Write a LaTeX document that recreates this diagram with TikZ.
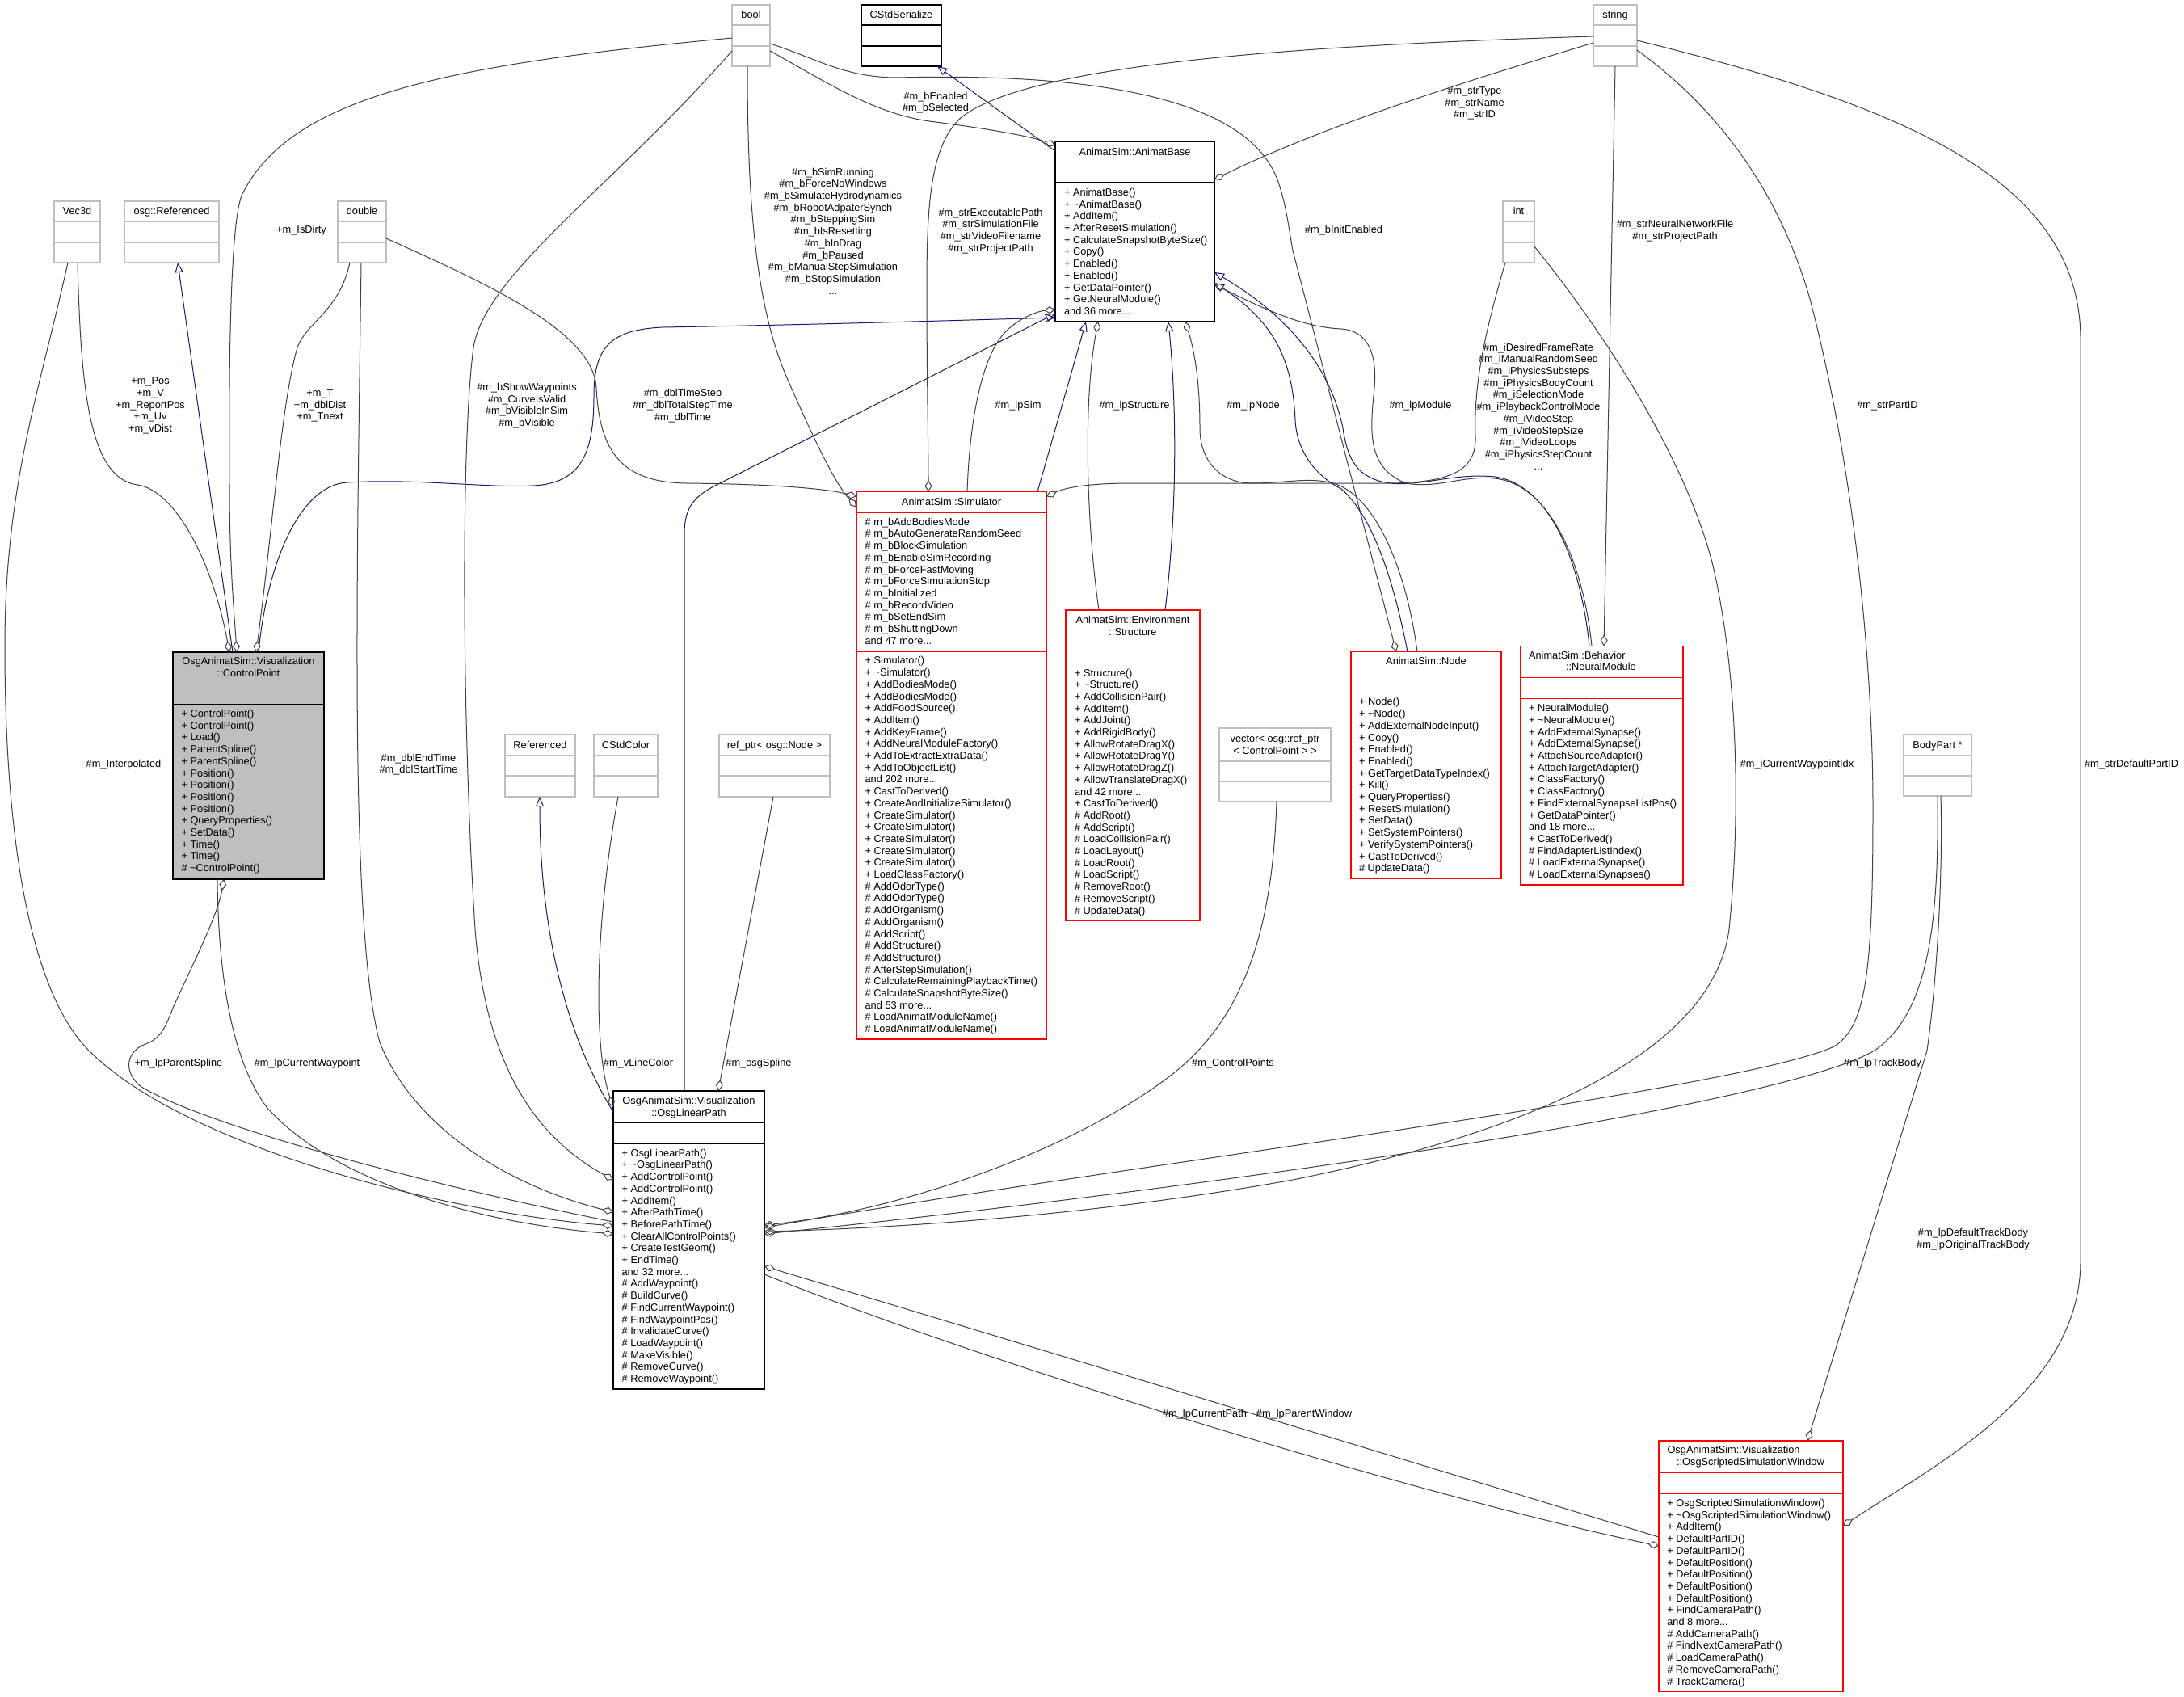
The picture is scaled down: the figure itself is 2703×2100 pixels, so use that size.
\documentclass[tikz,border=0pt]{standalone}
\usepackage{fontspec}
\setmainfont{Liberation Sans}
\usetikzlibrary{arrows.meta,calc}
\newcommand\lf{\fontsize{12.8}{14.7}\selectfont}
\newcommand\tdots{...}
\definecolor{edgegray}{HTML}{404040}
\definecolor{inhblue}{HTML}{191970}
\definecolor{boxgray}{HTML}{BFBFBF}
\definecolor{boxred}{HTML}{FF0000}
\newcommand\cbox[8]{%
  \node[cls, #8, minimum width=#4pt, minimum height=#5pt] (#1) at (#2,#3) {};
  \draw[#8, line width=1.2pt] ($(#1.north west)+(0,#6)$) -- ++(#4,0);
  \draw[#8, line width=1.2pt] ($(#1.north west)+(0,#6+#7)$) -- ++(#4,0);
}
\newcommand\mlines[4]{%
  \foreach \mline [count=\mi] in {#4} {\node[txt, anchor=base west] (#1\mi) at (#2, {#3+(\mi-1)*14.7}) {\mline};}%
}
\begin{document}
\begin{tikzpicture}[x=1pt, y=-1pt,
  cls/.style={draw, anchor=north west, inner sep=0pt, outer sep=0pt, line width=1.2pt, fill=white},
  gbox/.style={draw=boxgray},
  bbox/.style={draw=black},
  rbox/.style={draw=boxred},
  cpbox/.style={draw=black, fill=boxgray},
  txt/.style={font=\lf, inner sep=0pt, outer sep=0pt, text=black},
  lab/.style={txt, align=center},
  agg/.style={draw=edgegray, line width=1pt, -{Diamond[open, length=14pt, width=9pt]}},
  aggS/.style={draw=edgegray, line width=1pt, {Diamond[open, length=14pt, width=9pt]}-},
  inh/.style={draw=inhblue, line width=1pt, -{Triangle[open, length=12pt, width=10pt]}}]
\fill[white] (0,0) rectangle (2703,2100);
\useasboundingbox (0,0) rectangle (2703,2100);

% ---------- class boxes ----------
\cbox{bool}{906}{6}{47}{76}{25}{26}{gbox}
\cbox{stdser}{1066}{6}{99}{76}{25}{26}{bbox}
\cbox{string}{1972}{6}{54}{76}{25}{26}{gbox}
\cbox{vec3d}{67}{249}{57}{76}{25.5}{25.5}{gbox}
\cbox{osgref}{154}{249}{117}{76}{25.5}{25.5}{gbox}
\cbox{double}{418}{249}{60}{76}{25.5}{25.5}{gbox}
\cbox{int}{1860}{249}{39}{76}{25.5}{25.5}{gbox}
\cbox{ab}{1306}{175}{197}{223}{25.5}{25.5}{bbox}
\cbox{cp}{214}{807}{187}{281}{39.5}{25.5}{cpbox}
\cbox{sim}{1060}{608.5}{235}{677.5}{25.5}{172}{rbox}
\cbox{str}{1319}{755}{166}{384}{39.4}{26.2}{rbox}
\cbox{vec}{1509}{901}{138}{91}{41}{25.5}{gbox}
\cbox{node}{1672}{806.5}{186}{281}{25.2}{25.4}{rbox}
\cbox{nm}{1882}{799.5}{201}{295.5}{39}{26.2}{rbox}
\cbox{refd}{625}{909}{87}{77}{25.5}{25.5}{gbox}
\cbox{color}{735}{909}{79}{77}{25.5}{25.5}{gbox}
\cbox{refptr}{890}{909}{137}{77}{25.5}{25.5}{gbox}
\cbox{body}{2356}{909}{84}{76}{25.5}{25.5}{gbox}
\cbox{olp}{759}{1350}{187}{369}{39.7}{25.6}{bbox}
\cbox{osw}{2053}{1783}{228}{310}{39.7}{25.5}{rbox}

% ---------- titles ----------
\node[txt, anchor=base] (bool-t) at (929.5,23) {bool};
\node[txt, anchor=base] (stdser-t) at (1115.5,23) {CStdSerialize};
\node[txt, anchor=base] (string-t) at (1999,23) {string};
\node[txt, anchor=base] (vec3d-t) at (95.5,266) {Vec3d};
\node[txt, anchor=base] (osgref-t) at (212.5,266) {osg::Referenced};
\node[txt, anchor=base] (double-t) at (448,266) {double};
\node[txt, anchor=base] (int-t) at (1879.5,266) {int};
\node[txt, anchor=base] (ab-t) at (1404.5,192.2) {AnimatSim::AnimatBase};
\node[txt, anchor=base] (sim-t) at (1177.5,625.8) {AnimatSim::Simulator};
\node[txt, anchor=base] (node-t) at (1765,822.8) {AnimatSim::Node};
\node[txt, anchor=base] (refd-t) at (668.5,926) {Referenced};
\node[txt, anchor=base] (color-t) at (774.5,926) {CStdColor};
\node[txt, anchor=base] (refptr-t) at (958.5,926) {ref\_ptr< osg::Node >};
\node[txt, anchor=base] (body-t) at (2398,926) {BodyPart *};
\node[txt, anchor=base] (cp-t1) at (307.5,822.5) {OsgAnimatSim::Visualization};
\node[txt, anchor=base] (cp-t2) at (307.5,837.2) {::ControlPoint};
\node[txt, anchor=base] (str-t1) at (1402,771.5) {AnimatSim::Environment};
\node[txt, anchor=base] (str-t2) at (1402,786.1) {::Structure};
\node[txt, anchor=base] (vec-t1) at (1578,918.3) {vector< osg::ref\_ptr};
\node[txt, anchor=base] (vec-t2) at (1578,933) {< ControlPoint > >};
\node[txt, anchor=base west] (nm-t1) at (1892,815) {AnimatSim::Behavior};
\node[txt, anchor=base west] (nm-t2) at (1938,829.5) {::NeuralModule};
\node[txt, anchor=base] (olp-t1) at (852.5,1366.2) {OsgAnimatSim::Visualization};
\node[txt, anchor=base] (olp-t2) at (852.5,1381.2) {::OsgLinearPath};
\node[txt, anchor=base west] (osw-t1) at (2063.5,1798.8) {OsgAnimatSim::Visualization};
\node[txt, anchor=base west] (osw-t2) at (2075,1813.8) {::OsgScriptedSimulationWindow};

% ---------- members ----------
\mlines{abm}{1317}{242.5}{+ AnimatBase(), + \textasciitilde AnimatBase(), + AddItem(), + AfterResetSimulation(), + CalculateSnapshotByteSize(), + Copy(), + Enabled(), + Enabled(), + GetDataPointer(), + GetNeuralModule(), and 36 more\tdots}
\mlines{cpm}{224.5}{887.5}{+ ControlPoint(), + ControlPoint(), + Load(), + ParentSpline(), + ParentSpline(), + Position(), + Position(), + Position(), + Position(), + QueryProperties(), + SetData(), + Time(), + Time(), \# \textasciitilde ControlPoint()}
\mlines{sima}{1070.6}{650.2}{\# m\_bAddBodiesMode, \# m\_bAutoGenerateRandomSeed, \# m\_bBlockSimulation, \# m\_bEnableSimRecording, \# m\_bForceFastMoving, \# m\_bForceSimulationStop, \# m\_bInitialized, \# m\_bRecordVideo, \# m\_bSetEndSim, \# m\_bShuttingDown, and 47 more\tdots}
\mlines{simm}{1070.6}{821.9}{+ Simulator(), + \textasciitilde Simulator(), + AddBodiesMode(), + AddBodiesMode(), + AddFoodSource(), + AddItem(), + AddKeyFrame(), + AddNeuralModuleFactory(), + AddToExtractExtraData(), + AddToObjectList(), and 202 more\tdots, + CastToDerived(), + CreateAndInitializeSimulator(), + CreateSimulator(), + CreateSimulator(), + CreateSimulator(), + CreateSimulator(), + CreateSimulator(), + LoadClassFactory(), \# AddOdorType(), \# AddOdorType(), \# AddOrganism(), \# AddOrganism(), \# AddScript(), \# AddStructure(), \# AddStructure(), \# AfterStepSimulation(), \# CalculateRemainingPlaybackTime(), \# CalculateSnapshotByteSize(), and 53 more\tdots, \# LoadAnimatModuleName(), \# LoadAnimatModuleName()}
\mlines{strm}{1330}{837}{+ Structure(), + \textasciitilde Structure(), + AddCollisionPair(), + AddItem(), + AddJoint(), + AddRigidBody(), + AllowRotateDragX(), + AllowRotateDragY(), + AllowRotateDragZ(), + AllowTranslateDragX(), and 42 more\tdots, + CastToDerived(), \# AddRoot(), \# AddScript(), \# LoadCollisionPair(), \# LoadLayout(), \# LoadRoot(), \# LoadScript(), \# RemoveRoot(), \# RemoveScript(), \# UpdateData()}
\mlines{nodem}{1682}{872.9}{+ Node(), + \textasciitilde Node(), + AddExternalNodeInput(), + Copy(), + Enabled(), + Enabled(), + GetTargetDataTypeIndex(), + Kill(), + QueryProperties(), + ResetSimulation(), + SetData(), + SetSystemPointers(), + VerifySystemPointers(), + CastToDerived(), \# UpdateData()}
\mlines{nmm}{1892}{880.7}{+ NeuralModule(), + \textasciitilde NeuralModule(), + AddExternalSynapse(), + AddExternalSynapse(), + AttachSourceAdapter(), + AttachTargetAdapter(), + ClassFactory(), + ClassFactory(), + FindExternalSynapseListPos(), + GetDataPointer(), and 18 more\tdots, + CastToDerived(), \# FindAdapterListIndex(), \# LoadExternalSynapse(), \# LoadExternalSynapses()}
\mlines{olpm}{769.6}{1431.2}{+ OsgLinearPath(), + \textasciitilde OsgLinearPath(), + AddControlPoint(), + AddControlPoint(), + AddItem(), + AfterPathTime(), + BeforePathTime(), + ClearAllControlPoints(), + CreateTestGeom(), + EndTime(), and 32 more\tdots, \# AddWaypoint(), \# BuildCurve(), \# FindCurrentWaypoint(), \# FindWaypointPos(), \# InvalidateCurve(), \# LoadWaypoint(), \# MakeVisible(), \# RemoveCurve(), \# RemoveWaypoint()}
\mlines{oswm}{2063.3}{1864.5}{+ OsgScriptedSimulationWindow(), + \textasciitilde OsgScriptedSimulationWindow(), + AddItem(), + DefaultPartID(), + DefaultPartID(), + DefaultPosition(), + DefaultPosition(), + DefaultPosition(), + DefaultPosition(), + FindCameraPath(), and 8 more\tdots, \# AddCameraPath(), \# FindNextCameraPath(), \# LoadCameraPath(), \# RemoveCameraPath(), \# TrackCamera()}

% ---------- connectors ----------
\draw[agg] ($(vec3d.north west)+(29,76)$) .. controls (100,480) and (110,592) .. (170,600) .. controls (215,606) and (262,690) .. ($(cp.north west)+(70,0)$);
\draw[agg] ($(bool.north west)+(0,41)$) .. controls (550,80) and (360,120) .. (300,240) .. controls (285,270) and (283,450) .. (284,600) .. controls (284,700) and (290,760) .. ($(cp.north west)+(79,0)$);
\draw[inh] ($(cp.north west)+(74,0)$) -- ($(osgref.north west)+(66,76)$);
\draw[agg] ($(double.north west)+(15,76)$) .. controls (420,385) and (380,398) .. (368,430) .. controls (348,500) and (338,650) .. ($(cp.north west)+(103,0)$);
\draw[inh] ($(cp.north west)+(106,0)$) .. controls (330,700) and (370,600) .. (430,597) .. controls (520,592) and (600,604) .. (660,601) .. controls (720,598) and (735,560) .. (735,490) .. controls (735,430) and (755,408) .. (820,405) .. controls (1000,402) and (1200,396) .. ($(ab.north west)+(0,218)$);

\draw[agg] ($(bool.north west)+(0,57)$) .. controls (760,230) and (600,340) .. (586,430) .. controls (570,550) and (572,900) .. (588,1150) .. controls (600,1300) and (650,1400) .. ($(olp.north west)+(0,110)$);
\draw[agg] ($(double.north west)+(29,76)$) .. controls (442,700) and (432,1150) .. (470,1290) .. controls (510,1390) and (620,1465) .. ($(olp.north west)+(0,150)$);
\draw[agg] ($(vec3d.north west)+(17,76)$) .. controls (50,480) and (6,600) .. (6,800) .. controls (6,1050) and (40,1230) .. (110,1300) .. controls (230,1420) and (550,1500) .. ($(olp.north west)+(0,167)$);
\draw[aggS] ($(cp.north west)+(63,281)$) .. controls (270,1130) and (245,1180) .. (215,1245) .. controls (205,1270) and (200,1285) .. (180,1292) .. controls (158,1300) and (150,1325) .. (175,1345) .. controls (250,1390) and (500,1460) .. ($(olp.north west)+(0,162)$);
\draw[agg] ($(cp.north west)+(55,281)$) .. controls (270,1200) and (285,1310) .. (330,1370) .. controls (400,1450) and (560,1510) .. ($(olp.north west)+(0,177)$);

\draw[inh] ($(olp.north west)+(0,26)$) .. controls (700,1280) and (668,1150) .. ($(refd.north west)+(43,77)$);
\draw[agg] ($(color.north west)+(30,77)$) .. controls (735,1150) and (735,1300) .. ($(olp.north west)+(0,20)$);
\draw[agg] ($(refptr.north west)+(67,77)$) -- ($(olp.north west)+(130,0)$);
\draw[inh] ($(olp.north west)+(88,0)$) -- (847,660) .. controls (847,625) and (862,612) .. (891,598) -- ($(ab.north west)+(0,213)$);

\draw[agg] ($(double.north west)+(60,46)$) .. controls (600,350) and (735,410) .. (738,480) .. controls (742,560) and (770,597) .. (850,598) .. controls (950,599) and (1020,604) .. ($(sim.north west)+(0,6)$);
\draw[agg] ($(bool.north west)+(19,76)$) .. controls (925,250) and (935,380) .. (975,470) .. controls (1010,550) and (1035,600) .. ($(sim.north west)+(0,19)$);
\draw[inh] ($(sim.north west)+(224,0)$) -- ($(ab.north west)+(38,223)$);
\draw[aggS] ($(ab.north west)+(0,208)$) .. controls (1285,385) and (1262,393) .. (1245,410) .. controls (1215,440) and (1200,520) .. ($(sim.north west)+(137,0)$);
\draw[agg] ($(string.north west)+(0,39)$) .. controls (1650,55) and (1280,75) .. (1190,145) .. controls (1150,180) and (1147,260) .. (1147,360) .. controls (1147,460) and (1149,560) .. ($(sim.north west)+(89,0)$);
\draw[agg] ($(string.north west)+(0,47)$) .. controls (1850,90) and (1650,150) .. ($(ab.north west)+(197,47)$);
\draw[agg] ($(bool.north west)+(47,57)$) .. controls (1020,100) and (1080,140) .. (1150,150) .. controls (1230,160) and (1280,170) .. ($(ab.north west)+(0,5)$);
\draw[agg] ($(bool.north west)+(47,48)$) .. controls (1010,72) and (1045,96) .. (1110,96) .. controls (1350,90) and (1540,120) .. (1580,220) .. controls (1592,250) and (1596,290) .. (1600,310) -- ($(node.north west)+(56,0)$);
\draw[inh] ($(ab.north west)+(0,12)$) -- ($(stdser.north west)+(94,76)$);
\draw[inh] ($(str.north west)+(123,0)$) .. controls (1455,650) and (1458,520) .. ($(ab.north west)+(140,223)$);
\draw[aggS] ($(ab.north west)+(53,223)$) .. controls (1340,500) and (1345,650) .. ($(str.north west)+(41,0)$);
\draw[aggS] ($(ab.north west)+(161,223)$) .. controls (1480,440) and (1485,480) .. (1485,530) .. controls (1485,570) and (1510,598) .. (1550,598) .. controls (1590,598) and (1620,590) .. (1650,598) .. controls (1700,612) and (1740,700) .. ($(node.north west)+(82,0)$);
\draw[inh] ($(node.north west)+(70,0)$) .. controls (1725,720) and (1700,640) .. (1660,605) .. controls (1630,590) and (1605,560) .. (1603,520) .. controls (1600,450) and (1580,400) .. ($(ab.north west)+(197,175)$);
\draw[inh] ($(nm.north west)+(85,0)$) .. controls (1957,700) and (1920,600) .. (1850,590) .. controls (1800,585) and (1760,602) .. (1720,598) .. controls (1680,592) and (1668,570) .. (1662,530) .. controls (1650,470) and (1610,400) .. ($(ab.north west)+(197,162)$);
\draw[aggS] ($(ab.north west)+(197,177)$) .. controls (1560,380) and (1610,405) .. (1660,407) .. controls (1700,410) and (1705,450) .. (1700,490) .. controls (1695,540) and (1695,580) .. (1740,598) .. controls (1780,605) and (1810,588) .. (1850,592) .. controls (1920,600) and (1960,700) .. ($(nm.north west)+(88,0)$);
\draw[agg] ($(string.north west)+(27,76)$) -- ($(nm.north west)+(103,0)$);
\draw[agg] ($(int.north west)+(3,76)$) .. controls (1835,420) and (1824,480) .. (1826,540) .. controls (1828,585) and (1790,597) .. (1720,598) -- (1400,598) .. controls (1340,598) and (1315,605) .. ($(sim.north west)+(235,6)$);
\draw[agg] ($(int.north west)+(39,56)$) .. controls (2000,430) and (2090,580) .. (2120,700) .. controls (2150,830) and (2155,1000) .. (2140,1150) .. controls (2120,1300) and (1900,1400) .. (1600,1460) .. controls (1350,1505) and (1100,1520) .. ($(olp.north west)+(187,174)$);
\draw[agg] ($(string.north west)+(54,56)$) .. controls (2120,130) and (2200,230) .. (2240,370) .. controls (2290,560) and (2318,800) .. (2318,1000) .. controls (2318,1200) and (2310,1270) .. (2270,1295) .. controls (2150,1350) and (1400,1440) .. ($(olp.north west)+(187,169)$);
\draw[agg] ($(string.north west)+(54,44)$) .. controls (2350,130) and (2575,220) .. (2575,420) -- (2575,1560) .. controls (2575,1720) and (2400,1810) .. ($(osw.north west)+(228,105)$);
\draw[agg] ($(vec.north west)+(71,91)$) .. controls (1575,1150) and (1540,1260) .. (1450,1330) .. controls (1320,1430) and (1100,1500) .. ($(olp.north west)+(187,166)$);
\draw[agg] ($(body.north west)+(42,76)$) .. controls (2400,1150) and (2385,1255) .. (2320,1300) .. controls (2200,1370) and (1500,1470) .. ($(olp.north west)+(187,177)$);
\draw[agg] ($(body.north west)+(46,76)$) .. controls (2405,1100) and (2395,1230) .. (2385,1300) -- ($(osw.north west)+(184,0)$);
\draw[aggS] ($(osw.north west)+(0,130)$) .. controls (1750,1850) and (1200,1680) .. ($(olp.north west)+(187,227)$);
\draw[agg] ($(osw.north west)+(0,119)$) .. controls (1684,1790) and (1315,1678) .. ($(olp.north west)+(187,217)$);

% ---------- connector labels ----------
\node[lab] (l-vec) at (186,502) {+m\_Pos\\+m\_V\\+m\_ReportPos\\+m\_Uv\\+m\_vDist};
\node[lab] (l-dirty) at (373,285) {+m\_IsDirty};
\node[lab] (l-dbl) at (396,502) {+m\_T\\+m\_dblDist\\+m\_Tnext};
\node[lab] (l-show) at (652,502) {\#m\_bShowWaypoints\\\#m\_CurveIsValid\\\#m\_bVisibleInSim\\\#m\_bVisible};
\node[lab] (l-time) at (845,502) {\#m\_dblTimeStep\\\#m\_dblTotalStepTime\\\#m\_dblTime};
\node[lab] (l-simrun) at (1031,286) {\#m\_bSimRunning\\\#m\_bForceNoWindows\\\#m\_bSimulateHydrodynamics\\\#m\_bRobotAdpaterSynch\\\#m\_bSteppingSim\\\#m\_bIsResetting\\\#m\_bInDrag\\\#m\_bPaused\\\#m\_bManualStepSimulation\\\#m\_bStopSimulation\\...};
\node[lab] (l-enabled) at (1158,127) {\#m\_bEnabled\\\#m\_bSelected};
\node[lab] (l-strexe) at (1226,286) {\#m\_strExecutablePath\\\#m\_strSimulationFile\\\#m\_strVideoFilename\\\#m\_strProjectPath};
\node[lab] (l-strtype) at (1825,128) {\#m\_strType\\\#m\_strName\\\#m\_strID};
\node[lab] (l-init) at (1663,285) {\#m\_bInitEnabled};
\node[lab] (l-strnn) at (2073,286) {\#m\_strNeuralNetworkFile\\\#m\_strProjectPath};
\node[lab] (l-int) at (1904,503) {\#m\_iDesiredFrameRate\\\#m\_iManualRandomSeed\\\#m\_iPhysicsSubsteps\\\#m\_iPhysicsBodyCount\\\#m\_iSelectionMode\\\#m\_iPlaybackControlMode\\\#m\_iVideoStep\\\#m\_iVideoStepSize\\\#m\_iVideoLoops\\\#m\_iPhysicsStepCount\\...};
\node[lab] (l-sim) at (1260,502) {\#m\_lpSim};
\node[lab] (l-struct) at (1404,502) {\#m\_lpStructure};
\node[lab] (l-node) at (1551,502) {\#m\_lpNode};
\node[lab] (l-module) at (1758,502) {\#m\_lpModule};
\node[lab] (l-partid) at (2336,502) {\#m\_strPartID};
\node[lab] (l-interp) at (153,946) {\#m\_Interpolated};
\node[lab] (l-endtime) at (518,946) {\#m\_dblEndTime\\\#m\_dblStartTime};
\node[lab] (l-wpidx) at (2224,946) {\#m\_iCurrentWaypointIdx};
\node[lab] (l-defpart) at (2638,946) {\#m\_strDefaultPartID};
\node[lab] (l-parent) at (221,1316) {+m\_lpParentSpline};
\node[lab] (l-curwp) at (380,1316) {\#m\_lpCurrentWaypoint};
\node[lab] (l-color) at (790,1316) {\#m\_vLineColor};
\node[lab] (l-spline) at (939,1316) {\#m\_osgSpline};
\node[lab] (l-cps) at (1526,1316) {\#m\_ControlPoints};
\node[lab] (l-track) at (2330,1316) {\#m\_lpTrackBody};
\node[lab] (l-deftrack) at (2442,1534) {\#m\_lpDefaultTrackBody\\\#m\_lpOriginalTrackBody};
\node[lab] (l-curpath) at (1491,1750) {\#m\_lpCurrentPath};
\node[lab] (l-parwin) at (1614,1750) {\#m\_lpParentWindow};
\end{tikzpicture}
\end{document}
